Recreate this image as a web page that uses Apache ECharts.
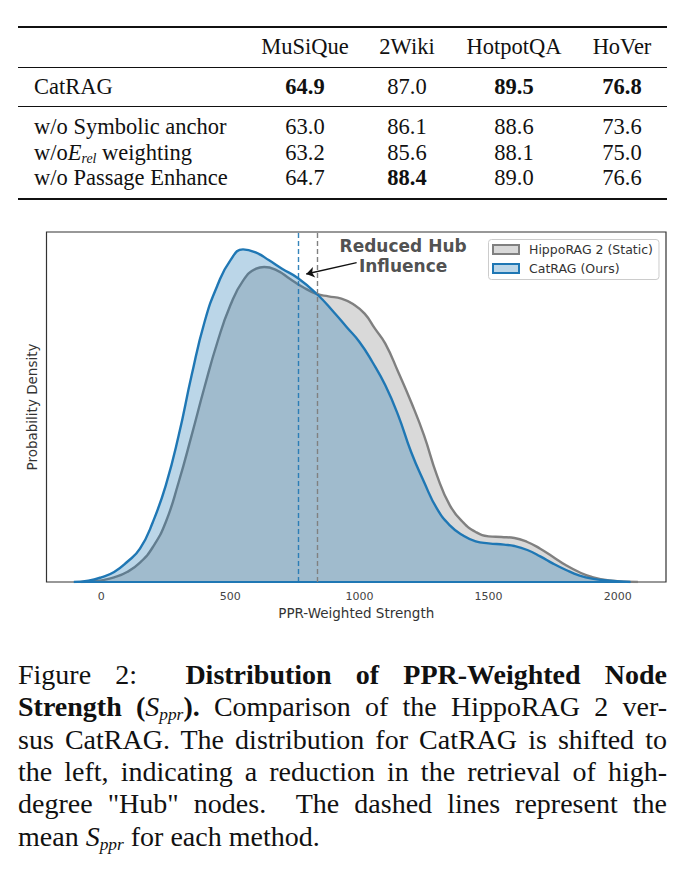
<!DOCTYPE html>
<html><head><meta charset="utf-8">
<script src="https://cdn.jsdelivr.net/npm/echarts@6/dist/echarts.min.js"></script>
<style>
html,body{margin:0;padding:0;background:#fff;}
#page{position:relative;width:694px;height:891px;overflow:hidden;background:#fff;}
#chart{position:absolute;left:0;top:0;width:694px;height:891px;}
.rule{position:absolute;left:18px;width:649px;background:#111;}
.cell{position:absolute;font-family:'Liberation Serif','Times New Roman',serif;font-size:22.5px;line-height:26px;height:26px;color:#111;white-space:nowrap;}
.num{width:100px;text-align:center;}
.b{font-weight:bold;}
.cap{position:absolute;left:18px;width:649px;font-family:'Liberation Serif','Times New Roman',serif;font-size:28px;line-height:32.4px;height:32.4px;white-space:nowrap;text-align:justify;text-align-last:justify;color:#111;}
.cap.last{text-align:left;text-align-last:left;}
sub{font-size:0.62em;line-height:0;vertical-align:-0.22em;}
</style></head>
<body><div id="page">
<div id="table"></div>
<div id="chart"></div>
<div id="caption">
<div class="cap" style="top:658.8px">Figure 2:&nbsp; <b>Distribution of PPR-Weighted Node</b></div>
<div class="cap" style="top:691.2px"><b>Strength (</b><i>S</i><sub><i>ppr</i></sub><b>).</b> Comparison of the HippoRAG 2 ver-</div>
<div class="cap" style="top:723.6px">sus CatRAG. The distribution for CatRAG is shifted to</div>
<div class="cap" style="top:756px">the left, indicating a reduction in the retrieval of high-</div>
<div class="cap" style="top:788.4px">degree "Hub" nodes.&nbsp; The dashed lines represent the</div>
<div class="cap last" style="top:820.8px">mean <i>S</i><sub><i>ppr</i></sub> for each method.</div>
</div>
</div>
<script>
// ---------- table data ----------
const datasets = ['MuSiQue', '2Wiki', 'HotpotQA', 'HoVer'];
const methods = ['CatRAG', 'w/o Symbolic anchor', 'w/o<i>E</i><sub><i>rel</i></sub> weighting', 'w/o Passage Enhance'];
const musique = [64.9, 63.0, 63.2, 64.7];
const wiki2 = [87.0, 86.1, 85.6, 88.4];
const hotpotqa = [89.5, 88.6, 88.1, 89.0];
const hover = [76.8, 73.6, 75.0, 76.6];

// ---------- chart data ----------
const catX = [-106, -50, 0, 50, 100, 150, 200, 250, 300, 350, 400, 450, 500, 549, 600, 650, 700, 761, 835, 900, 950, 1000, 1050, 1100, 1150, 1200, 1250, 1300, 1350, 1400, 1450, 1500, 1560, 1600, 1650, 1700, 1750, 1800, 1850, 1900, 1967, 2049];
const catY = [0, 0.004, 0.014, 0.03, 0.06, 0.1, 0.18, 0.29, 0.44, 0.62, 0.78, 0.89, 0.965, 0.998, 0.988, 0.965, 0.94, 0.912, 0.864, 0.81, 0.765, 0.72, 0.66, 0.59, 0.5, 0.39, 0.3, 0.22, 0.17, 0.14, 0.122, 0.116, 0.112, 0.108, 0.096, 0.077, 0.055, 0.036, 0.02, 0.01, 0.004, 0];
const hippoX = [-80, -30, 0, 50, 100, 150, 200, 250, 300, 350, 400, 450, 500, 550, 600, 631, 680, 730, 780, 835, 880, 930, 975, 1020, 1060, 1100, 1150, 1200, 1250, 1300, 1350, 1400, 1450, 1500, 1550, 1600, 1650, 1700, 1750, 1800, 1850, 1900, 1967, 2078];
const hippoY = [0, 0.002, 0.005, 0.014, 0.03, 0.058, 0.105, 0.18, 0.3, 0.44, 0.585, 0.72, 0.83, 0.905, 0.94, 0.945, 0.935, 0.91, 0.885, 0.864, 0.857, 0.85, 0.834, 0.805, 0.76, 0.715, 0.63, 0.54, 0.44, 0.32, 0.23, 0.18, 0.15, 0.137, 0.135, 0.132, 0.12, 0.1, 0.075, 0.05, 0.03, 0.015, 0.005, 0];
const meanCat = 761;
const meanHippo = 836;
const xTicks = [0, 500, 1000, 1500, 2000];
const seriesNames = ['HippoRAG 2 (Static)', 'CatRAG (Ours)'];
const annotationText = 'Reduced Hub\nInfluence';
const annotationAt = [1169, 0.978];
const arrowFrom = [989, 0.958];
const arrowTo = [794, 0.924];

// ---------- table ----------
(function buildTable() {
  const t = document.getElementById('table');
  const colCenters = [305, 407, 514, 622];
  const rowCenters = [87, 127, 153, 178];
  const cols = [musique, wiki2, hotpotqa, hover];
  let html = '';
  html += '<div class="rule" style="top:26.3px;height:2px"></div>';
  html += '<div class="rule" style="top:66.8px;height:1.2px"></div>';
  html += '<div class="rule" style="top:105.8px;height:1.2px"></div>';
  html += '<div class="rule" style="top:197.8px;height:2px"></div>';
  datasets.forEach((d, j) => {
    html += `<div class="cell num" style="left:${colCenters[j] - 50}px;top:${47 - 13}px">${d}</div>`;
  });
  methods.forEach((m, i) => {
    html += `<div class="cell" style="left:34px;top:${rowCenters[i] - 13}px">${m}</div>`;
    cols.forEach((col, j) => {
      const best = Math.max(...col);
      const cls = col[i] === best ? 'cell num b' : 'cell num';
      html += `<div class="${cls}" style="left:${colCenters[j] - 50}px;top:${rowCenters[i] - 13}px">${col[i].toFixed(1)}</div>`;
    });
  });
  t.innerHTML = html;
})();

// ---------- chart ----------
const pairs = (xs, ys) => xs.map((x, i) => [x, ys[i]]);
const chart = echarts.init(document.getElementById('chart'), null, {renderer: 'svg', width: 694, height: 891});
const font = 'DejaVu Sans';
const GRAY = '#808080', BLUE = '#1f77b4';
chart.setOption({
  animation: false,
  textStyle: {fontFamily: font},
  grid: {left: 46.5, top: 232, width: 619.5, height: 350, show: true, borderColor: '#333', borderWidth: 1.2, backgroundColor: 'transparent'},
  xAxis: {
    type: 'value', min: -212, max: 2187,
    axisLine: {show: false}, axisTick: {show: false}, splitLine: {show: false},
    axisLabel: {customValues: xTicks, color: '#444', fontSize: 11, margin: 9, fontFamily: font,
      formatter: v => String(v)},
    name: 'PPR-Weighted Strength', nameLocation: 'middle', nameGap: 24,
    nameTextStyle: {fontSize: 13.5, color: '#333', fontFamily: font}
  },
  yAxis: {
    type: 'value', min: 0, max: 1.05,
    axisLine: {show: false}, axisTick: {show: false}, axisLabel: {show: false}, splitLine: {show: false},
    name: 'Probability Density', nameLocation: 'middle', nameGap: 8,
    nameTextStyle: {fontSize: 13.5, color: '#333', fontFamily: font}
  },
  legend: {
    orient: 'vertical', left: 488.5, top: 239.5, padding: [3, 6, 4, 3.5],
    itemWidth: 26, itemHeight: 9, itemGap: 5, selectedMode: false,
    borderColor: '#ccc', borderWidth: 1, borderRadius: 3, backgroundColor: 'rgba(255,255,255,0.85)',
    textStyle: {fontSize: 12.5, color: '#333', fontFamily: font, lineHeight: 14, padding: [0, 0, 0, 5]},
    data: [
      {name: seriesNames[0], icon: 'rect', itemStyle: {color: '#d9d9d9', borderColor: GRAY, borderWidth: 2}},
      {name: seriesNames[1], icon: 'rect', itemStyle: {color: '#bcd6e8', borderColor: BLUE, borderWidth: 2}}
    ]
  },
  series: [
    {
      name: seriesNames[0], type: 'line', data: pairs(hippoX, hippoY), smooth: 0.5,
      symbol: 'none', z: 2, itemStyle: {color: GRAY},
      lineStyle: {color: GRAY, width: 2.4},
      areaStyle: {color: 'rgba(128,128,128,0.3)', opacity: 1, origin: 'start'},
      markLine: {silent: true, symbol: 'none', label: {show: false},
        lineStyle: {color: GRAY, type: [5, 3], width: 1.4}, data: [{xAxis: meanHippo}]}
    },
    {
      name: 'hippo-base', type: 'line', data: [[hippoX[0], 0], [hippoX[hippoX.length - 1], 0]],
      symbol: 'none', z: 2, lineStyle: {color: GRAY, width: 2}
    },
    {
      name: seriesNames[1], type: 'line', data: pairs(catX, catY), smooth: 0.5,
      symbol: 'none', z: 3, itemStyle: {color: BLUE},
      lineStyle: {color: BLUE, width: 2.4},
      areaStyle: {color: 'rgba(31,119,180,0.3)', opacity: 1, origin: 'start'},
      markLine: {silent: true, symbol: 'none', label: {show: false},
        lineStyle: {color: BLUE, type: [5, 3], width: 1.4, opacity: 0.9}, data: [{xAxis: meanCat}]}
    },
    {
      name: 'cat-base', type: 'line', data: [[catX[0], 0], [catX[catX.length - 1], 0]],
      symbol: 'none', z: 3, lineStyle: {color: BLUE, width: 2}
    },
    {
      name: 'arrow', type: 'lines', coordinateSystem: 'cartesian2d', z: 5,
      symbol: ['none', 'arrow'], symbolSize: [0, 8],
      lineStyle: {color: '#111', width: 1.3, curveness: 0, opacity: 1},
      data: [{coords: [arrowFrom, arrowTo]}]
    },
    {
      name: 'annotation', type: 'scatter', data: [annotationAt], symbolSize: 0, z: 6, silent: true,
      label: {show: true, position: 'inside', formatter: annotationText, fontFamily: font,
        fontWeight: 'bold', fontSize: 17, lineHeight: 19.5, color: '#222', align: 'center', verticalAlign: 'middle'}
    }
  ]
});
</script>
</body></html>
